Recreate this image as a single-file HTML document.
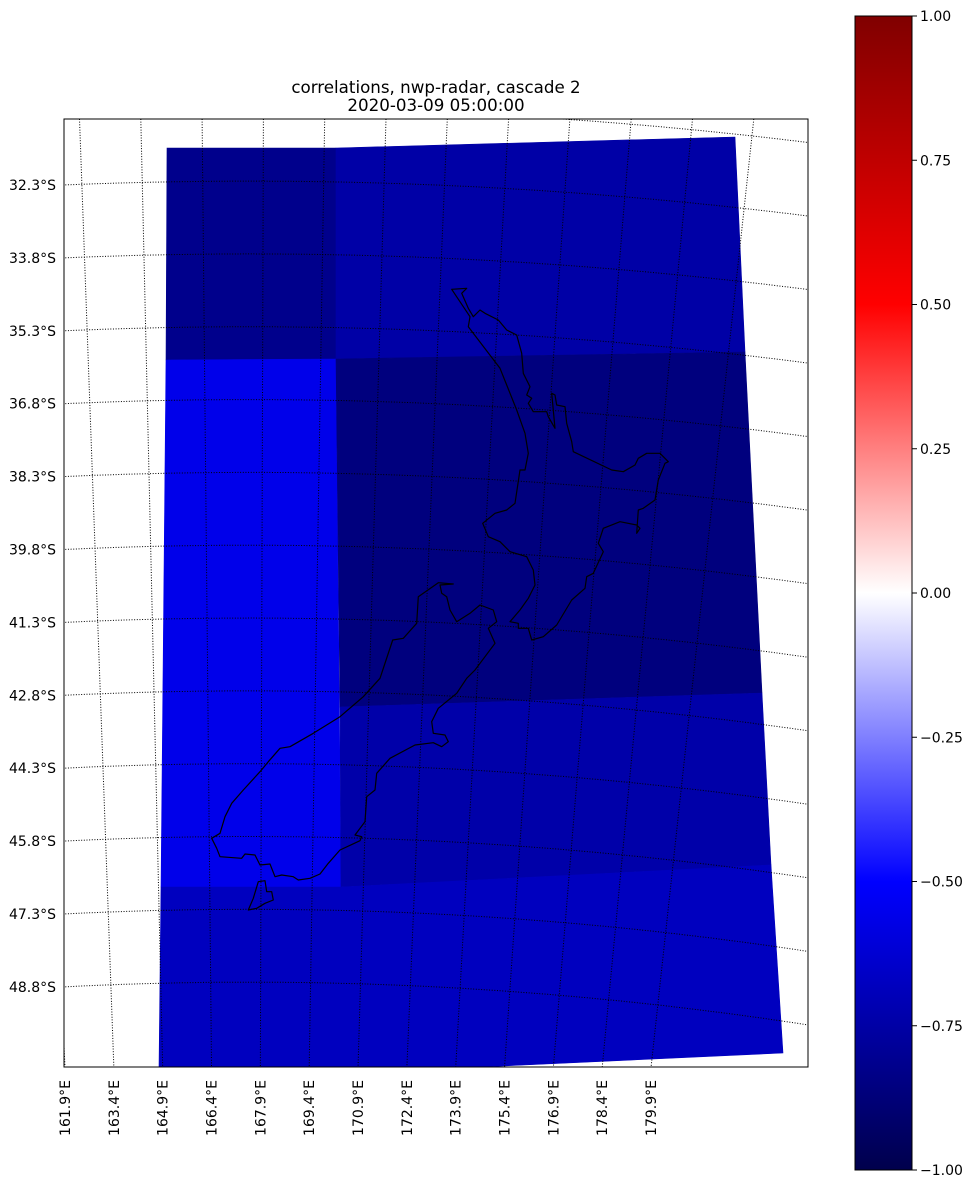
<!DOCTYPE html>
<html><head><meta charset="utf-8">
<style>
html,body{margin:0;padding:0;background:#fff;}
svg text{font-family:"DejaVu Sans","Liberation Sans",sans-serif;font-size:14px;fill:#000;}
svg text.title{font-size:16.7px;}
</style></head>
<body>
<svg id="fig" width="974" height="1189" viewBox="0 0 974 1189" xmlns="http://www.w3.org/2000/svg">
<defs>
<clipPath id="axclip"><rect x="64" y="119" width="744" height="948"/></clipPath>
<linearGradient id="seismic" x1="0" y1="1" x2="0" y2="0">
<stop offset="0" stop-color="#00004c"/>
<stop offset="0.25" stop-color="#0000ff"/>
<stop offset="0.5" stop-color="#ffffff"/>
<stop offset="0.75" stop-color="#ff0000"/>
<stop offset="1" stop-color="#800000"/>
</linearGradient>
</defs>
<text class="title" x="436" y="93" text-anchor="middle">correlations, nwp-radar, cascade 2</text>
<text class="title" x="436" y="111" text-anchor="middle">2020-03-09 05:00:00</text>
<g id="blocks" clip-path="url(#axclip)"></g>
<g id="grid" clip-path="url(#axclip)"></g>
<g id="coast"></g>
<rect x="64" y="119" width="744" height="948" fill="none" stroke="#000" stroke-width="1"/>
<g id="latlabels"></g>
<g id="lonlabels"></g>
<rect x="855" y="16" width="57" height="1154" fill="url(#seismic)" stroke="#000" stroke-width="1"/>
<g id="cbticks"></g>
</svg>
<script>
// correlation values of the cascade blocks
const blockNames = ['top-left','top-right','mid-left','mid-right','lower-mid','bottom'];
const blockValues = [-0.82, -0.75, -0.56, -0.86, -0.74, -0.68];
const latLabels = ['32.3°S','33.8°S','35.3°S','36.8°S','38.3°S','39.8°S','41.3°S','42.8°S','44.3°S','45.8°S','47.3°S','48.8°S'];
const lonLabels = ['161.9°E','163.4°E','164.9°E','166.4°E','167.9°E','169.4°E','170.9°E','172.4°E','173.9°E','175.4°E','176.9°E','178.4°E','179.9°E'];
const cbTicks = [1.00,0.75,0.50,0.25,0.00,-0.25,-0.50,-0.75,-1.00];

const NS='http://www.w3.org/2000/svg';
function mk(tag,attrs,parent){const e=document.createElementNS(NS,tag);for(const k in attrs)e.setAttribute(k,attrs[k]);parent.appendChild(e);return e;}

function seismic(v){
  const t=(v+1)/2;
  const stops=[[0,[0,0,76]],[0.25,[0,0,255]],[0.5,[255,255,255]],[0.75,[255,0,0]],[1,[128,0,0]]];
  for(let i=0;i<stops.length-1;i++){
    const [a,ca]=stops[i],[b,cb]=stops[i+1];
    if(t<=b){const f=(t-a)/(b-a);return 'rgb('+ca.map((c,j)=>Math.round(c+(cb[j]-c)*f)).join(',')+')';}
  }
  return 'rgb(128,0,0)';
}
const blockPolys=[
 [[167,148],[336,148],[336,359],[166,360]],
 [[336,148],[735,137],[745,352],[336,359]],
 [[166,360],[336,359],[341,887],[161,887]],
 [[336,359],[745,352],[762,693],[340,707]],
 [[340,707],[762,693],[771,865],[341,887]],
 [[161,887],[341,887],[771,865],[783,1053],[481,1067],[159,1067]]
];
const gB=document.getElementById('blocks');
blockValues.forEach((v,i)=>{
  const p=mk('polygon',{points:blockPolys[i].map(q=>q.join(',')).join(' '),fill:seismic(v),stroke:seismic(v),'stroke-width':0.6},gB);
  
  
});

const gG=document.getElementById('grid');
const latY=i=>185+72.9*i;
const latD=i=>31+7*i/11;
for(let i=-1;i<latLabels.length;i++){
  const L=latY(i), D=latD(i), xc=250;
  const a=D/((808-xc)**2-(64-xc)**2), y0=L-a*(64-xc)**2;
  let d='';
  for(let x=60;x<=812;x+=8){d+=(x===60?'M':'L')+x+','+(y0+a*(x-xc)**2).toFixed(1);}
  const p=mk('path',{d:d,fill:'none',stroke:'#000','stroke-width':1,'stroke-dasharray':'1,1.65'},gG);
  
  
}
const lonBottom=i=>65+48.84*i;
const lonTop=i=>79.5+61.3*(i-1);
for(let i=0;i<lonLabels.length;i++){
  const p=mk('line',{x1:lonTop(i),y1:119,x2:lonBottom(i),y2:1067,stroke:'#000','stroke-width':1,'stroke-dasharray':'1,1.65'},gG);
  
  
}
const gLat=document.getElementById('latlabels');
latLabels.forEach((s,i)=>{
  const t=mk('text',{x:56,y:latY(i)+5,'text-anchor':'end'},gLat);t.textContent=s;
  
  
});
const gLon=document.getElementById('lonlabels');
lonLabels.forEach((s,i)=>{
  const x=lonBottom(i)+5;
  const t=mk('text',{x:x,y:1080,'text-anchor':'end',transform:'rotate(-90 '+x+' 1080)'},gLon);t.textContent=s;
  
  
});
const gC=document.getElementById('cbticks');
const cbY=v=>16+(1-v)/2*1154;
cbTicks.forEach(v=>{
  const y=cbY(v);
  const l=mk('line',{x1:912,y1:y,x2:917,y2:y,stroke:'#000','stroke-width':1},gC);
  
  
  const t=mk('text',{x:920,y:y+5},gC);t.textContent=(v<0?'\u2212':'')+Math.abs(v).toFixed(2);
  
  
});

const NI=[[155,28],[200,25],[185,40],[205,85],[220,110],[240,90],[255,100],[295,120],[320,150],[350,165],[365,220],[370,280],[390,320],[380,345],[395,355],[385,370],[400,395],[440,395],[445,410],[465,445],[455,340],[465,345],[470,375],[495,380],[500,430],[515,485],[520,515],[635,570],[670,575],[705,555],[715,535],[740,520],[780,520],[805,545],[795,550],[775,600],[765,660],[730,685],[715,690],[710,760],[720,745],[710,735],[660,725],[610,745],[595,790],[610,815],[580,880],[560,890],[555,925],[515,960],[470,1035],[430,1070],[395,1080],[385,1045],[355,1045],[355,1030],[330,1025],[360,990],[385,955],[405,915],[400,870],[380,830],[330,815],[300,785],[265,770],[248,730],[285,700],[320,690],[345,670],[360,570],[375,570],[385,520],[375,460],[350,390],[300,265],[205,140],[210,110],[155,28]];
const SI=[[715,38],[760,42],[720,45],[725,70],[740,80],[750,120],[770,155],[810,130],[840,105],[880,120],[890,155],[865,175],[885,220],[825,300],[800,325],[770,370],[715,415],[695,455],[700,490],[735,495],[745,515],[725,530],[700,518],[645,525],[570,565],[530,610],[525,660],[500,680],[495,755],[465,795],[485,800],[480,812],[420,840],[385,880],[360,912],[330,925],[295,930],[280,920],[245,915],[225,920],[210,882],[180,885],[165,855],[135,852],[125,865],[60,860],[50,835],[35,805],[60,790],[75,740],[95,700],[130,660],[180,605],[205,575],[240,535],[270,530],[340,490],[420,440],[490,380],[540,325],[578,210],[610,205],[650,160],[655,80],[715,38]];
const ST=[[145,1020],[160,985],[175,935],[195,932],[200,965],[215,965],[220,990],[195,1000],[170,1015],[145,1020]];
const gK=document.getElementById('coast');
function coast(pts,ox,oy,name){
  const d=pts.map((q,i)=>(i?'L':'M')+(ox+q[0]/3).toFixed(1)+','+(oy+q[1]/3).toFixed(1)).join('')+'Z';
  const p=mk('path',{d:d,fill:'none',stroke:'#000','stroke-width':1.2,'stroke-linejoin':'round'},gK);
  
  
}
coast(NI,400,280,'north-island-coast');
coast(SI,200,570,'south-island-coast');
coast(ST,200,570,'stewart-island-coast');
</script>
</body></html>
